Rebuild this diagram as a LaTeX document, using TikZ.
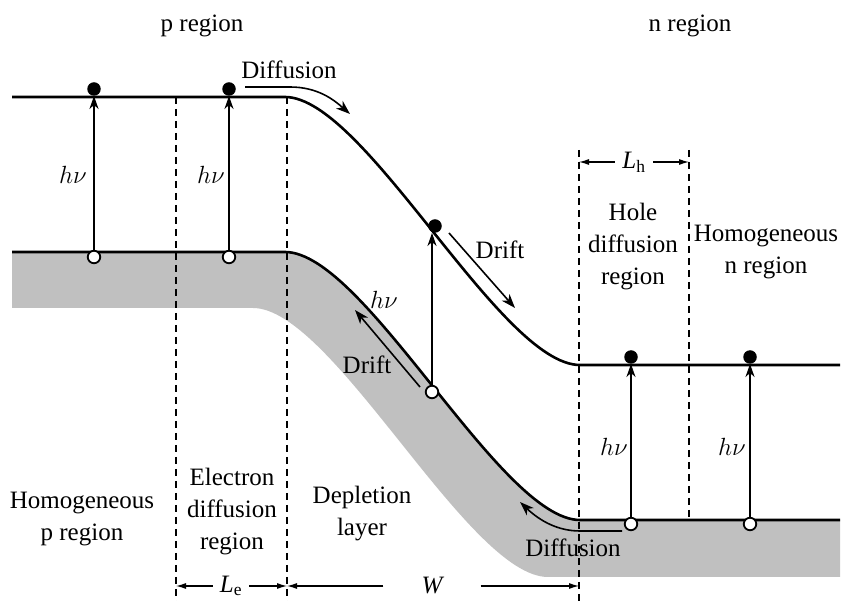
\documentclass[tikz,border=0pt]{standalone}
\usepackage{fontspec}
\setmainfont{Liberation Serif}
\usetikzlibrary{arrows.meta}
\definecolor{bandgray}{RGB}{192,192,192}
\begin{document}
\begin{tikzpicture}[x=1pt,y=-1pt,
  band/.style={line width=2.6pt},
  guide/.style={line width=1.1pt, dash pattern=on 7pt off 5pt},
  flow/.style={line width=1.6pt,-{Stealth[length=14pt,width=10pt,inset=4pt]}},
  photon/.style={line width=1.6pt,-{Stealth[length=13pt,width=9pt,inset=4pt]}},
  dimarr/.style={line width=1.1pt,-{Latex[length=10pt,width=6pt]}},
  elec/.style={circle,fill=black,inner sep=0pt,minimum size=13.5pt},
  hole/.style={circle,draw=black,fill=white,line width=1.8pt,inner sep=0pt,minimum size=12.5pt},
  lbl/.style={font=\fontsize{25}{32}\selectfont,align=center,inner sep=0pt},
  ]
\useasboundingbox (0,0) rectangle (847,601);
% gray valence region
\fill[bandgray] (12,252) -- (285,252) .. controls (365,252) and (500,520) .. (580,520)
  -- (840,520) -- (840,577) -- (548,577) .. controls (468,577) and (333,308) .. (253,308)
  -- (12,308) -- cycle;
% guide lines
\coordinate (g1t) at (176,97);  \coordinate (g1b) at (176,601);
\coordinate (g2t) at (287,97);  \coordinate (g2b) at (287,601);
\coordinate (g3t) at (579,150); \coordinate (g3b) at (579,601);
\coordinate (g4t) at (689,150); \coordinate (g4b) at (689,520);
\draw[guide] (g1t) -- (g1b);
\draw[guide] (g2t) -- (g2b);
\draw[guide] (g3t) -- (g3b);
\draw[guide] (g4t) -- (g4b);
% bands
\draw[band] (12,97) -- (285,97) .. controls (365,97) and (500,365) .. (580,365) -- (840,365);
\draw[band] (12,252) -- (285,252) .. controls (365,252) and (500,520) .. (580,520) -- (840,520);
% carriers
\node[elec] (e1) at (94,89) {};
\node[hole] (h1) at (94,257) {};
\node[elec] (e2) at (229,89) {};
\node[hole] (h2) at (229,257) {};
\node[elec] (e3) at (435,226) {};
\node[hole] (h3) at (432,392) {};
\node[elec] (e4) at (631,357) {};
\node[hole] (h4) at (631,524) {};
\node[elec] (e5) at (750,357) {};
\node[hole] (h5) at (750,524) {};
% photon arrows
\draw[photon] (h1) -- (e1);
\draw[photon] (h2) -- (e2);
\draw[photon] (h3) -- (h3 |- e3.south);
\draw[photon] (h4) -- (e4);
\draw[photon] (h5) -- (e5);
% h nu labels
\node[lbl] (hv1) at (73,175) {$h\nu$};
\node[lbl] (hv2) at (211,175) {$h\nu$};
\node[lbl] (hv3) at (384,300) {$h\nu$};
\node[lbl] (hv4) at (614,447) {$h\nu$};
\node[lbl] (hv5) at (732,447) {$h\nu$};
% flow arrows
\coordinate (dfTs) at (245,87);  \coordinate (dfTe) at (350,114);
\draw[flow] (dfTs) -- (290,87) .. controls (318,87) and (334,100) .. (dfTe);
\coordinate (drTs) at (449,233); \coordinate (drTe) at (515,308);
\draw[flow] (drTs) -- (drTe);
\coordinate (drBs) at (420,387); \coordinate (drBe) at (355,310);
\draw[flow] (drBs) -- (drBe);
\coordinate (dfBs) at (622,531); \coordinate (dfBe) at (520,502);
\draw[flow] (dfBs) -- (580,531) .. controls (558,531) and (540,521) .. (dfBe);
% flow labels
\node[lbl] (diffT) at (289,70) {Diffusion};
\node[lbl] (driftT) at (500,250) {Drift};
\node[lbl] (driftB) at (367,365) {Drift};
\node[lbl] (diffB) at (573,548) {Diffusion};
% region labels
\node[lbl] (preg) at (202,26) {p region};
\node[lbl] (nreg) at (690,26) {n region};
\node[lbl] (homp) at (82,519) {Homogeneous\\p region};
\node[lbl] (elecd) at (232,512) {Electron\\diffusion\\region};
\node[lbl] (depl) at (362,514) {Depletion\\layer};
\node[lbl] (holed) at (633,247) {Hole\\diffusion\\region};
\node[lbl] (homn) at (766,252) {Homogeneous\\n region};
% dimensions
\coordinate (le1) at (176,586); \coordinate (le2) at (287,586);
\node[lbl,minimum width=36pt] (Le) at (231,586) {{\itshape L}\textsubscript{e}};
\draw[dimarr] (Le.west) -- (le1);
\draw[dimarr] (Le.east) -- (le2);
\coordinate (w1) at (287,586); \coordinate (w2) at (579,586);
\node[lbl,minimum width=97pt] (W) at (432,586) {\itshape W};
\draw[dimarr] (W.west) -- (w1);
\draw[dimarr] (W.east) -- (w2);
\coordinate (lh1) at (579,162); \coordinate (lh2) at (689,162);
\node[lbl,minimum width=38pt] (Lh) at (634,162) {{\itshape L}\textsubscript{h}};
\draw[dimarr] (Lh.west) -- (lh1);
\draw[dimarr] (Lh.east) -- (lh2);
\end{tikzpicture}
\end{document}
